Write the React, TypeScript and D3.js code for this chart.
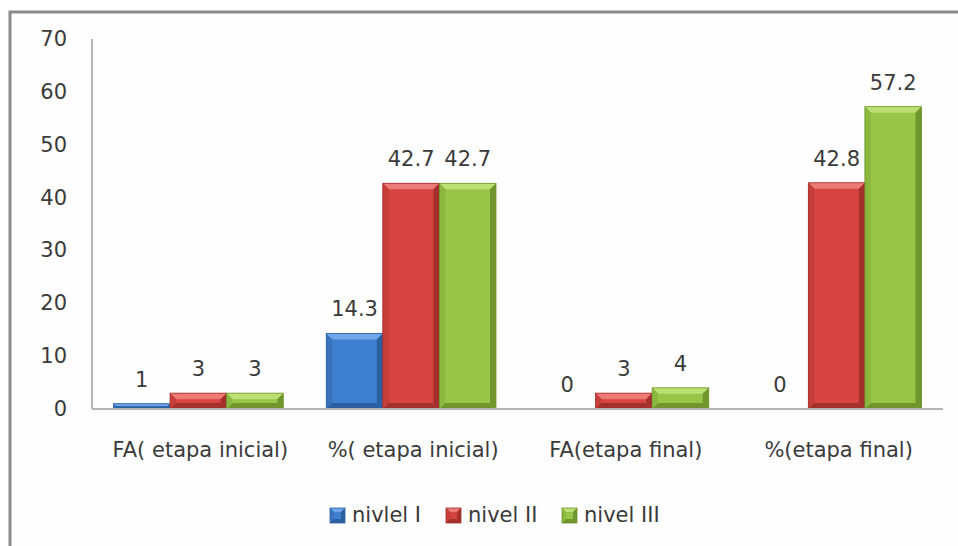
import React from "react";
import * as d3 from "d3";

const categories = ["FA( etapa inicial)", "%( etapa inicial)", "FA(etapa final)", "%(etapa final)"];
const seriesNames = ["nivlel I", "nivel II", "nivel III"];
const nivel1 = [1, 14.3, 0, 0];
const nivel2 = [3, 42.7, 3, 42.8];
const nivel3 = [3, 42.7, 4, 57.2];
const yTicks = [0, 10, 20, 30, 40, 50, 60, 70];
const labels1 = ["1", "14.3", "0", "0"];
const labels2 = ["3", "42.7", "3", "42.8"];
const labels3 = ["3", "42.7", "4", "57.2"];

const W = 958;
const H = 546;
const FONT = "'DejaVu Sans', Verdana, sans-serif";

const palettes = [
  { main: "#3f7fcf", light: "#6fa6ea", dark: "#2c5f9f", side: "#3a74bd" },
  { main: "#d64541", light: "#ec7a76", dark: "#a3302c", side: "#c63d39" },
  { main: "#98c548", light: "#bde074", dark: "#6f952c", side: "#8cb840" },
];

function BevelRect({ x, y, w, h, p, b0 = 6 }: { x: number; y: number; w: number; h: number; p: any; b0?: number }) {
  if (h <= 0) return null;
  const b = Math.min(b0, h / 2, w / 2);
  const pts = (a: number[][]) => a.map((q) => q.join(",")).join(" ");
  return (
    <g>
      <rect x={x} y={y} width={w} height={h} fill={p.main} />
      <polygon points={pts([[x, y], [x + w, y], [x + w - b, y + b], [x + b, y + b]])} fill={p.light} />
      <polygon points={pts([[x, y], [x + b, y + b], [x + b, y + h - b], [x, y + h]])} fill={p.side} />
      <polygon points={pts([[x + w, y], [x + w - b, y + b], [x + w - b, y + h - b], [x + w, y + h]])} fill={p.dark} />
      <polygon points={pts([[x, y + h], [x + b, y + h - b], [x + w - b, y + h - b], [x + w, y + h]])} fill={p.dark} />
      <rect x={x} y={y} width={w} height={h} fill="none" stroke={p.dark} strokeWidth={0.8} />
    </g>
  );
}

export default function App() {
  const x0 = d3.scaleBand<string>().domain(categories).range([92, 943]).paddingInner(0).paddingOuter(0);
  const groupPad = 21.5;
  const x1 = d3
    .scaleBand<string>()
    .domain(seriesNames)
    .range([groupPad, x0.bandwidth() - groupPad])
    .padding(0);
  const y = d3.scaleLinear().domain([0, 70]).range([409, 39]);
  const data = [nivel1, nivel2, nivel3];
  const labs = [labels1, labels2, labels3];
  const fs = 21;
  const tc = "#3a3a3a";

  return (
    <svg width={W} height={H} style={{ position: "absolute", left: 0, top: 0, background: "#fff" }} fontFamily={FONT}>
      <rect x={0} y={0} width={W} height={H} fill="#fff" />
      <rect x={10} y={12} width={W + 20} height={H + 20} fill="#fefefe" stroke="#8a8a8a" strokeWidth={3} />
      {/* y axis */}
      <line x1={92} x2={92} y1={y(70)} y2={y(0)} stroke="#b4b4b4" strokeWidth={2} />
      {yTicks.map((t) => (
        <text key={t} x={67} y={y(t)} textAnchor="end" dominantBaseline="central" fontSize={fs} fill={tc}>
          {t}
        </text>
      ))}
      {/* bars */}
      {categories.map((c, ci) =>
        seriesNames.map((s, si) => {
          const v = data[si][ci];
          const bx = (x0(c) as number) + (x1(s) as number);
          const bw = x1.bandwidth();
          return (
            <g key={c + s}>
              <BevelRect x={bx} y={y(v)} w={bw} h={y(0) - y(v)} p={palettes[si]} />
              <text x={bx + bw / 2} y={y(v) - 17} textAnchor="middle" fontSize={fs} fill={tc}>
                {labs[si][ci]}
              </text>
            </g>
          );
        })
      )}
      <line x1={92} x2={943} y1={y(0)} y2={y(0)} stroke="#b4b4b4" strokeWidth={2} />
      {categories.map((c) => (
        <text key={c} x={(x0(c) as number) + x0.bandwidth() / 2 + 2} y={457} textAnchor="middle" fontSize={fs} fill={tc}>
          {c}
        </text>
      ))}
      {/* legend */}
      {seriesNames.map((s, i) => {
        const lx = [330, 446, 562][i];
        return (
          <g key={s}>
            <BevelRect x={lx} y={508} w={15} h={15} p={palettes[i]} b0={4} />
            <text x={lx + 22} y={522} fontSize={fs} fill={tc}>
              {s}
            </text>
          </g>
        );
      })}
    </svg>
  );
}
